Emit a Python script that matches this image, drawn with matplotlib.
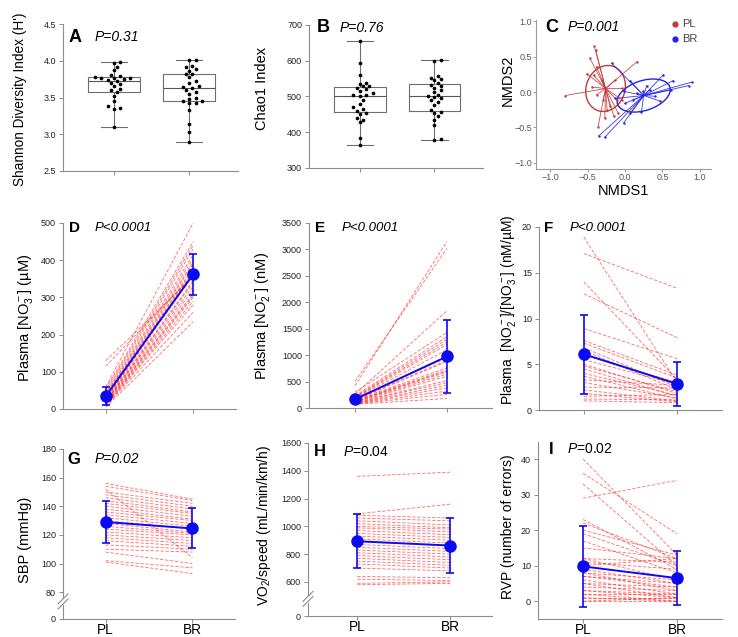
import numpy as np
import matplotlib
matplotlib.use("Agg")
import matplotlib.pyplot as plt
from matplotlib.patches import Ellipse

plt.rcParams['font.family'] = ['Liberation Sans', 'DejaVu Sans']
plt.rcParams['mathtext.fontset'] = 'custom'
plt.rcParams['mathtext.rm'] = 'Liberation Sans'
plt.rcParams['mathtext.it'] = 'Liberation Sans:italic'
plt.rcParams['mathtext.bf'] = 'Liberation Sans:bold'

# ---------------- data ----------------
groups = ["PL", "BR"]

shannon_pl = [3.10, 3.35, 3.36, 3.38, 3.45, 3.52, 3.57, 3.60, 3.62, 3.65, 3.68, 3.70, 3.72,
              3.74, 3.75, 3.76, 3.76, 3.77, 3.78, 3.79, 3.80, 3.88, 3.92, 3.97, 3.98]
shannon_br = [2.90, 3.03, 3.14, 3.33, 3.42, 3.43, 3.45, 3.45, 3.48, 3.50, 3.55, 3.58, 3.60,
              3.63, 3.64, 3.66, 3.70, 3.72, 3.78, 3.82, 3.82, 3.86, 3.89, 3.91, 3.93, 4.01, 4.01]

chao_pl = [365, 385, 428, 435, 440, 450, 455, 460, 465, 470, 480, 490, 500, 505, 505, 510,
           515, 520, 525, 528, 530, 535, 538, 560, 595, 655]
chao_br = [377, 380, 420, 435, 445, 455, 456, 462, 475, 485, 490, 495, 498, 500, 505, 512,
           518, 525, 530, 532, 538, 545, 548, 552, 558, 600, 602]

nmds_pl_x = [-0.80, -0.41, -0.39, -0.47, 0.16, -0.51, -0.38, -0.44, -0.31, -0.38, -0.36,
             -0.27, -0.15, -0.09, -0.20, -0.04, -0.11, -0.13, -0.29, -0.04, -0.42, -0.24]
nmds_pl_y = [-0.05, 0.65, 0.59, 0.48, 0.43, 0.26, 0.36, 0.07, 0.17, -0.04, -0.49,
             -0.37, -0.34, -0.30, -0.20, 0.05, -0.11, 0.17, -0.11, -0.11, 0.24, -0.25]
nmds_br_x = [-0.18, 0.51, 0.64, 0.89, 0.85, 0.29, 0.07, -0.02, -0.13, 0.00, 0.11,
             0.07, 0.22, -0.02, -0.35, -0.27, 0.47, 0.33, 0.40, 0.16, 0.62, 0.24]
nmds_br_y = [0.41, 0.24, 0.16, 0.14, 0.09, 0.09, 0.16, 0.01, -0.09, -0.16, -0.11,
             -0.30, -0.28, -0.44, -0.62, -0.64, -0.13, 0.03, -0.06, -0.02, 0.03, 0.01]
nmds_centroid_pl = [-0.26, 0.05]
nmds_centroid_br = [0.25, -0.05]
nmds_ellipse_pl = [0.52, 0.66, -15]   # width, height, angle
nmds_ellipse_br = [0.74, 0.42, 20]

no3_pl = [130, 115, 60, 55, 50, 45, 40, 38, 35, 32, 30, 28, 25, 25, 22, 20, 20, 18, 15, 15, 12, 10, 10, 8, 5]
no3_br = [355, 360, 500, 450, 440, 430, 415, 405, 395, 390, 380, 375, 370, 360, 345, 340, 330, 320, 310, 305, 300, 290, 280, 260, 235]
no3_mean = [35, 362]
no3_sd = [25, 56]

no2_pl = [420, 500, 260, 300, 230, 210, 200, 190, 180, 170, 160, 150, 150, 140, 130, 125, 120, 110, 100, 100, 90, 85, 80, 75, 70]
no2_br = [3150, 3020, 1840, 1430, 1350, 1300, 1250, 1200, 1100, 950, 900, 880, 760, 720, 700, 680, 640, 600, 520, 480, 430, 380, 320, 260, 180]
no2_mean = [165, 975]
no2_sd = [70, 685]

ratio_pl = [18.9, 17.1, 14.0, 12.7, 8.9, 7.6, 7.3, 6.8, 6.5, 6.0, 5.5, 5.0, 4.8, 4.5, 4.0, 3.7, 3.3, 3.0, 2.5, 2.2, 1.8, 1.5, 1.2, 1.0]
ratio_br = [3.0, 13.3, 3.3, 7.9, 5.6, 3.8, 3.5, 2.5, 2.2, 3.0, 2.8, 1.8, 2.0, 1.5, 1.6, 1.2, 2.7, 1.3, 2.4, 1.0, 0.9, 1.7, 1.1, 0.8]
ratio_mean = [6.1, 2.85]
ratio_sd = [4.3, 2.45]

sbp_pl = [156, 154, 152, 150, 148, 146, 144, 142, 140, 138, 136, 134, 132, 130, 128, 126, 124, 122, 120, 118, 116, 113, 110, 108, 102, 101]
sbp_br = [145, 144, 104, 142, 140, 138, 136, 135, 133, 131, 130, 128, 126, 124, 122, 121, 120, 118, 116, 114, 112, 110, 108, 100, 97, 93]
sbp_mean = [129, 124.5]
sbp_sd = [15, 14]

vo2_pl = [1360, 1090, 1080, 1060, 1040, 1020, 1000, 990, 970, 950, 930, 910, 890, 870, 850, 830, 810, 790, 770, 750, 730, 700, 640, 620, 590, 580]
vo2_br = [1390, 1160, 1060, 1040, 1010, 990, 980, 960, 940, 920, 900, 880, 860, 840, 820, 800, 780, 760, 740, 720, 700, 680, 630, 610, 600, 590]
vo2_mean = [893, 862]
vo2_sd = [195, 195]

rvp_pl = [40, 36, 33, 29, 23, 22, 20, 19, 17, 15, 12, 12, 11, 10, 9, 8, 8, 7, 7, 6, 5, 5, 4, 3, 3, 2, 2, 1, 1, 0, 0]
rvp_br = [13, 19, 10, 34, 9, 12, 13, 10, 8, 12, 11, 6, 9, 12, 5, 6, 3, 5, 4, 2, 4, 1, 3, 2, 1, 2, 0, 1, 0, 0, 1]
rvp_mean = [9.8, 6.5]
rvp_sd = [11.3, 7.7]

# ---------------- layout helpers ----------------
W, H = 738, 637
fig = plt.figure(figsize=(W / 100, H / 100), dpi=100)

def axpx(x0, y0, x1, y1):
    return fig.add_axes([x0 / W, 1 - y1 / H, (x1 - x0) / W, (y1 - y0) / H])

def ftext(x, y, s, **kw):
    kw.setdefault('va', 'center')
    fig.text(x / W, 1 - y / H, s, **kw)

SPINE = '#8c8c8c'
TICKC = '#222222'
TFS = 6.5
RED = '#ff1a1a'
BLUE = '#0a0af5'

def style(ax, ticklabels=False):
    for s in ['top', 'right']:
        ax.spines[s].set_visible(False)
    for s in ['left', 'bottom']:
        ax.spines[s].set_color(SPINE)
        ax.spines[s].set_linewidth(0.8)
    ax.tick_params(axis='both', colors=SPINE, labelcolor=TICKC, labelsize=TFS,
                   length=3, width=0.7, direction='out', pad=2)
    ax.set_xticks([1, 2])
    if ticklabels:
        ax.set_xticklabels(groups, fontsize=9.8, color='black')
        ax.tick_params(axis='x', pad=0)
    else:
        ax.set_xticklabels([])

def swarm(vals, yscale, xscale, dot=4.0):
    vals = np.asarray(vals, float)
    order = np.argsort(vals)
    placed = []
    offs = np.zeros(len(vals))
    for i in order:
        y = vals[i] * yscale
        cand = 0.0
        for k in range(60):
            cand = 0.0 if k == 0 else ((k + 1) // 2) * dot * 0.8 * (1 if k % 2 else -1)
            if all((cand - px) ** 2 + (y - py) ** 2 >= dot ** 2 for py, px in placed):
                break
        placed.append((y, cand))
        offs[i] = cand / xscale
    return offs

def boxpanel(ax, data, ylim, yticks, ypx):
    ax.boxplot(data, positions=[1, 2], widths=0.69, whis=(0, 100), showfliers=False,
               capwidths=0.35,
               boxprops=dict(color='#6e6e6e', linewidth=0.8),
               whiskerprops=dict(color='#6e6e6e', linewidth=0.8),
               capprops=dict(color='#6e6e6e', linewidth=0.8),
               medianprops=dict(color='#555555', linewidth=0.8))
    for i, d in enumerate(data):
        offs = swarm(d, ypx, 75.0)
        ax.scatter(np.full(len(d), i + 1) + offs, d, s=7, color='black', zorder=3, linewidths=0)
    ax.set_ylim(*ylim)
    ax.set_yticks(yticks)
    ax.set_xlim(0.32, 2.65)
    style(ax)

def pairpanel(ax, pl, br, mean, sd, ylim, xlim):
    for a, b in zip(pl, br):
        ax.plot([1, 2], [a, b], color=RED, lw=0.6, alpha=0.65, dashes=(4, 2), zorder=1)
    ax.errorbar([1, 2], mean, yerr=sd, color=BLUE, lw=1.4, marker='o', ms=8,
                capsize=3, capthick=1.2, elinewidth=1.2, zorder=3)
    ax.set_ylim(*ylim)
    ax.set_xlim(*xlim)

def broken_axis(ax, ybreak, bpx=4.0):
    ax.spines['left'].set_visible(False)
    pos = ax.get_position()
    wpx = pos.width * W
    hpx = pos.height * H
    y0, y1 = ax.get_ylim()
    ydata_per_px = (y1 - y0) / hpx
    trans = ax.get_yaxis_transform()
    kw = dict(color=SPINE, lw=0.8, transform=trans, clip_on=False)
    ax.plot([0, 0], [y0, ybreak - bpx * ydata_per_px], **kw)
    ax.plot([0, 0], [ybreak + bpx * ydata_per_px, y1], **kw)
    dx = 5.0 / wpx
    for off in (-2.5, 2.5):
        yc = ybreak + off * ydata_per_px
        ax.plot([-dx, dx], [yc - 5 * ydata_per_px, yc + 5 * ydata_per_px], **kw)

# ---------------- Panel A ----------------
axA = axpx(63, 24, 238, 171)
boxpanel(axA, [shannon_pl, shannon_br], (2.5, 4.5), [2.5, 3.0, 3.5, 4.0, 4.5], 73.5)
axA.set_yticklabels(['2.5', '3.0', '3.5', '4.0', '4.5'])
ftext(20, 99, "Shannon Diversity Index (H')", rotation=90, ha='center', fontsize=9.8)
ftext(69, 38, 'A', fontsize=13, fontweight='bold')
ftext(95, 37, 'P=0.31', fontsize=10, style='italic')

# ---------------- Panel B ----------------
axB = axpx(309, 25, 483, 168)
boxpanel(axB, [chao_pl, chao_br], (300, 700), [300, 400, 500, 600, 700], 143 / 400)
ftext(262, 88, 'Chao1 Index', rotation=90, ha='center', fontsize=10.5)
ftext(317, 28, 'B', fontsize=13, fontweight='bold')
ftext(340, 28, 'P=0.76', fontsize=10, style='italic')

# ---------------- Panel C ----------------
axC = axpx(536, 20, 711, 169)
CRED = '#c03a3a'
CBLUE = '#2323e6'
for xs, ys, cen, ell, col in [(nmds_pl_x, nmds_pl_y, nmds_centroid_pl, nmds_ellipse_pl, CRED),
                              (nmds_br_x, nmds_br_y, nmds_centroid_br, nmds_ellipse_br, CBLUE)]:
    for x, y in zip(xs, ys):
        axC.plot([cen[0], x], [cen[1], y], color=col, lw=0.6, alpha=0.9)
    axC.scatter(xs, ys, s=3, color=col, zorder=3, linewidths=0)
    axC.add_patch(Ellipse(cen, ell[0], ell[1], angle=ell[2], fill=False, ec=col, lw=1.0))
axC.set_xlim(-1.19, 1.15)
axC.set_ylim(-1.09, 1.02)
axC.set_xticks([-1.0, -0.5, 0.0, 0.5, 1.0])
axC.set_yticks([-1.0, -0.5, 0.0, 0.5, 1.0])
for s in ['top', 'right']:
    axC.spines[s].set_visible(False)
for s in ['left', 'bottom']:
    axC.spines[s].set_color('#9a9a9a')
    axC.spines[s].set_linewidth(0.8)
axC.tick_params(colors='#9a9a9a', labelcolor='#555555', labelsize=TFS, length=2, width=0.7, pad=1)
ftext(508, 80, 'NMDS2', rotation=90, ha='center', fontsize=10.5)
ftext(623, 191, 'NMDS1', ha='center', fontsize=10.5)
ftext(545, 28, 'C', fontsize=13, fontweight='bold')
ftext(568, 27, 'P=0.001', fontsize=10, style='italic')
fig.lines.append(plt.Line2D([675 / W], [1 - 24 / H], marker='o', ms=3.5, color=CRED, transform=fig.transFigure))
fig.lines.append(plt.Line2D([675 / W], [1 - 39 / H], marker='o', ms=3.5, color=CBLUE, transform=fig.transFigure))
ftext(682, 24, 'PL', fontsize=8, color='#444444')
ftext(682, 39, 'BR', fontsize=8, color='#444444')

# ---------------- Panel D ----------------
axD = axpx(63, 223, 236, 409)
pairpanel(axD, no3_pl, no3_br, no3_mean, no3_sd, (0, 500), (0.51, 2.49))
axD.set_yticks([0, 100, 200, 300, 400, 500])
style(axD)
ftext(26, 318, 'Plasma [NO$_3^-$] (µM)', rotation=90, ha='center', fontsize=10.5)
ftext(69, 228, 'D', fontsize=11, fontweight='bold')
ftext(95, 228, 'P<0.0001', fontsize=9.5, style='italic')

# ---------------- Panel E ----------------
axE = axpx(309, 223, 492, 408)
pairpanel(axE, no2_pl, no2_br, no2_mean, no2_sd, (0, 3500), (0.5, 2.49))
axE.set_yticks(np.arange(0, 3501, 500))
style(axE)
ftext(263, 316, 'Plasma [NO$_2^-$] (nM)', rotation=90, ha='center', fontsize=10.5)
ftext(315, 228, 'E', fontsize=11, fontweight='bold')
ftext(342, 228, 'P<0.0001', fontsize=9.5, style='italic')

# ---------------- Panel F ----------------
axF = axpx(539, 227, 722, 410)
pairpanel(axF, ratio_pl, ratio_br, ratio_mean, ratio_sd, (0, 20), (0.52, 2.48))
axF.set_yticks([0, 5, 10, 15, 20])
style(axF)
ftext(508, 310, 'Plasma  [NO$_2^-$]/[NO$_3^-$] (nM/µM)', rotation=90, ha='center', fontsize=10)
ftext(544, 228, 'F', fontsize=11, fontweight='bold')
ftext(570, 228, 'P<0.0001', fontsize=9.5, style='italic')

# ---------------- Panel G ----------------
axG = axpx(63, 449, 235, 619)
pairpanel(axG, sbp_pl, sbp_br, sbp_mean, sbp_sd, (61.25, 180), (0.51, 2.49))
axG.set_yticks([61.25, 80, 100, 120, 140, 160, 180])
axG.set_yticklabels(['0', '80', '100', '120', '140', '160', '180'])
style(axG, ticklabels=True)
broken_axis(axG, 73.5)
ftext(25, 540, 'SBP (mmHg)', rotation=90, ha='center', fontsize=10.5)
ftext(67, 459, 'G', fontsize=12, fontweight='bold')
ftext(95, 459, 'P=0.02', fontsize=10, style='italic')

# ---------------- Panel H ----------------
axH = axpx(308, 443, 492, 616)
pairpanel(axH, vo2_pl, vo2_br, vo2_mean, vo2_sd, (355, 1600), (0.47, 2.45))
axH.set_yticks([355, 600, 800, 1000, 1200, 1400, 1600])
axH.set_yticklabels(['0', '600', '800', '1000', '1200', '1400', '1600'])
style(axH, ticklabels=True)
broken_axis(axH, 478)
ftext(264, 525, 'VO$_2$/speed (mL/min/km/h)', rotation=90, ha='center', fontsize=10)
ftext(314, 452, 'H', fontsize=12, fontweight='bold')
ftext(343, 452, '$P$=0.04', fontsize=10)

# ---------------- Panel I ----------------
axI = axpx(538, 442, 722, 619)
pairpanel(axI, rvp_pl, rvp_br, rvp_mean, rvp_sd, (-5, 44.8), (0.52, 2.48))
axI.set_yticks([0, 10, 20, 30, 40])
style(axI, ticklabels=True)
ftext(508, 527, 'RVP (number of errors)', rotation=90, ha='center', fontsize=10)
ftext(549, 449, 'I', fontsize=12, fontweight='bold')
ftext(567, 449, '$P$=0.02', fontsize=10)

fig.savefig('out.png', dpi=100)
